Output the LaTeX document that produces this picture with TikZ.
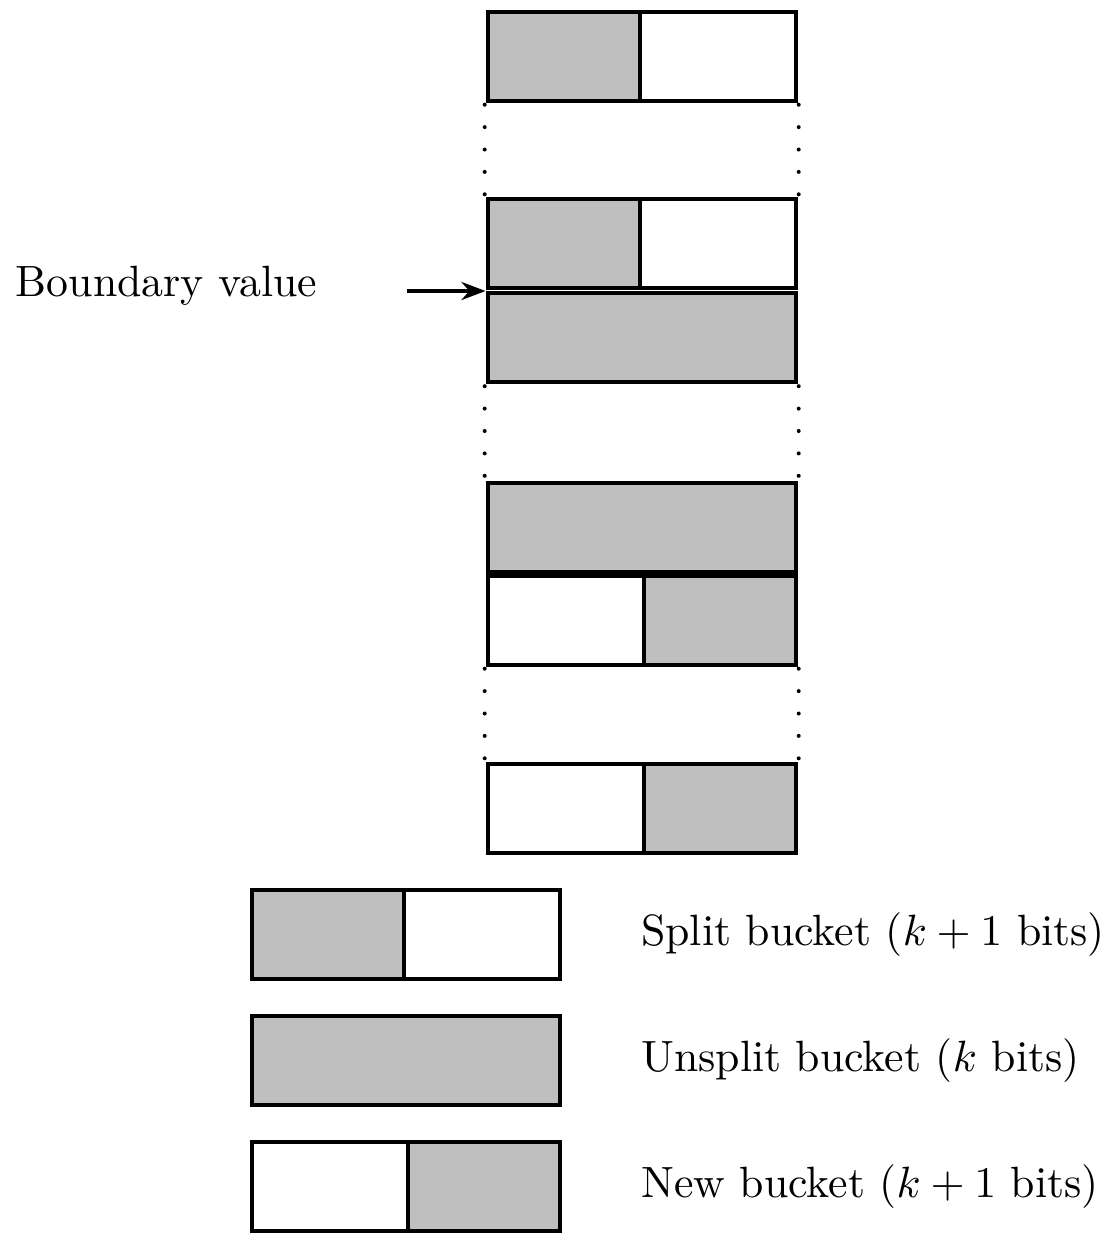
\documentclass[tikz,border=0pt,11pt]{standalone}
\usetikzlibrary{positioning, arrows.meta}
\tikzstyle{cell} = [rectangle, draw=black, line width=1pt, minimum height=22.3pt, inner sep=0pt, outer sep=0pt, anchor=north west]
\tikzstyle{used} = [cell, fill=black!25]
\tikzstyle{free} = [cell, fill=white]
\tikzstyle{gap} = [line width=1pt, line cap=round, dash pattern=on 0pt off 5.6pt]
\tikzstyle{desc} = [anchor=west, inner sep=0pt]
\tikzstyle{arrow} = [line width=1pt, -{Stealth[length=6pt, width=4.5pt]}, shorten >=0.5pt]

\begin{document}
\begin{tikzpicture}[x=0.25pt, y=-0.25pt]
\useasboundingbox (0,0) rectangle (1113,1233);

% bucket array
\node (b1) [used, minimum width=38pt] at (487.5,11.5) {};
\node (b1r) [free, minimum width=39.1pt, right=0pt of b1] {};

\node (b2) [used, minimum width=38pt] at (487.5,199) {};
\node (b2r) [free, minimum width=39.1pt, right=0pt of b2] {};

\node (b3) [used, minimum width=77.1pt] at (487.5,293) {};

\node (b4) [used, minimum width=77.1pt] at (487.5,483) {};

\node (b5) [free, minimum width=39pt] at (487.5,575.5) {};
\node (b5r) [used, minimum width=38.1pt, right=0pt of b5] {};

\node (b6) [free, minimum width=39pt] at (487.5,764) {};
\node (b6r) [used, minimum width=38.1pt, right=0pt of b6] {};

% elided buckets
\draw [gap] ([shift={(-0.7pt,-1pt)}]b1.south west) -- ([shift={(-0.7pt,1pt)}]b2.north west);
\draw [gap] ([shift={(0.7pt,-1pt)}]b1r.south east) -- ([shift={(0.7pt,1pt)}]b2r.north east);
\draw [gap] ([shift={(-0.7pt,-1pt)}]b3.south west) -- ([shift={(-0.7pt,1pt)}]b4.north west);
\draw [gap] ([shift={(0.7pt,-1pt)}]b3.south east) -- ([shift={(0.7pt,1pt)}]b4.north east);
\draw [gap] ([shift={(-0.7pt,-1pt)}]b5.south west) -- ([shift={(-0.7pt,1pt)}]b6.north west);
\draw [gap] ([shift={(0.7pt,-1pt)}]b5r.south east) -- ([shift={(0.7pt,1pt)}]b6r.north east);

% boundary
\node (bval) [desc] at (15,286) {Boundary value};
\coordinate (tail) at (407,291);
\draw [arrow] (tail) -- (tail -| b3.west);

% legend
\node (l1) [used, minimum width=38pt] at (252,890) {};
\node (l1r) [free, minimum width=39.1pt, right=0pt of l1] {};
\node (t1) [desc, right=20pt of l1r] {Split bucket ($k+1$ bits)};

\node (l2) [used, minimum width=77.1pt] at (252,1016) {};
\node (t2) [desc, right=20pt of l2] {Unsplit bucket ($k$ bits)};

\node (l3) [free, minimum width=39pt] at (252,1141.5) {};
\node (l3r) [used, minimum width=38.1pt, right=0pt of l3] {};
\node (t3) [desc, right=20pt of l3r] {New bucket ($k+1$ bits)};
\end{tikzpicture}
\end{document}
